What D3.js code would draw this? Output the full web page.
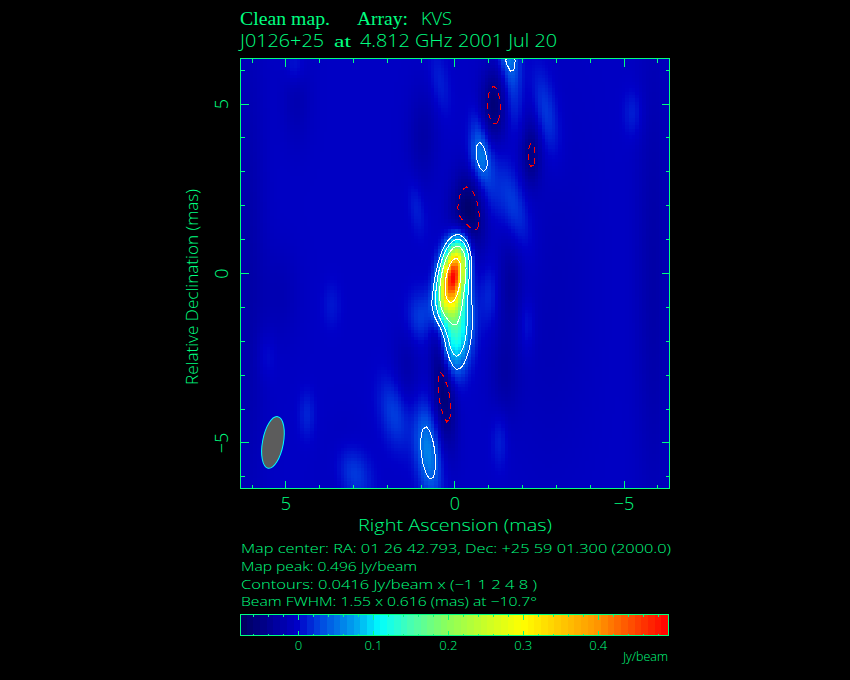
<!DOCTYPE html>
<html><head><meta charset="utf-8">
<script src="https://cdnjs.cloudflare.com/ajax/libs/d3/7.8.5/d3.min.js"></script>
<style>
html,body{margin:0;padding:0;background:#000}
svg{display:block}
text{fill:#00ff80;font-family:"Open Sans",sans-serif;font-weight:300}
.axis path{display:none}
.axis line{stroke:#00ff80;stroke-width:1;shape-rendering:crispEdges}
</style></head><body>
<svg id="c" width="850" height="680"></svg>
<script>
// Map extent (mas) and colour range (Jy/beam)
const raDomain = [6.33, -6.36];
const decDomain = [-6.36, 6.33];
const mapSize = 128;
const colorDomain = [-0.077, 0, 0.03, 0.08, 0.11, 0.15, 0.2, 0.25, 0.3, 0.4, 0.494];
const colorRange = ["#00005a","#0000c8","#0046e1","#00aaf0","#00ffff","#46ffb4","#8cff5a","#c8ff28","#ffff00","#ff9600","#ff0000"];
const colorSteps = 64;
// Brightness components: position, extent, position angle, amplitude
const compRA    = [0.03,-0.06,-0.05,0.30, 0.77,-0.78,-1.60,-0.41,-1.18,-2.28,0.33,-2.70,-1.75,-5.30,1.00,1.75,3.00,4.35,3.62,5.55,-1.75,-0.72,-1.05,1.10,0.42,4.70,-1.05,-2.15,-1.35,0.92,4.65,-1.65,-1.50,-2.25,1.39,5.15,3.28,-5.90,6.10,-3.30,-2.50];
const compDec   = [-0.07,-1.85,-0.90,-0.95,-5.30,3.37,6.60,1.63,4.94,3.46,-3.18,4.75,2.00,4.70,-1.33,-4.15,-5.90,-4.20,-0.97,-2.45,5.00,4.20,2.40,1.90,5.60,6.10,-0.70,-1.55,-4.95,3.98,5.20,-0.30,-2.95,4.60,-2.87,-0.68,-5.62,0,0,0,-2];
const compMajor = [0.66,0.80,0.55,0.40,0.95,0.52,0.70,0.90,0.73,0.62,1.25,0.90,0.95,0.50,0.55,0.75,0.60,0.50,0.50,0.50,0.70,0.50,0.60,0.60,0.70,0.40,0.70,0.60,0.60,1.00,1.00,1.00,1.00,0.80,1.00,1.00,0.80,5.00,5.00,4.00,3.00];
const compMinor = [0.24,0.30,0.24,0.25,0.25,0.22,0.20,0.33,0.26,0.20,0.22,0.25,0.28,0.20,0.30,0.30,0.35,0.17,0.20,0.20,0.22,0.18,0.22,0.17,0.20,0.20,0.20,0.17,0.17,0.30,0.30,0.25,0.30,0.25,0.30,0.40,0.40,0.35,0.35,0.80,0.80];
const compPA    = [-10.7,-6,-6,0,6,5,8,0,0,0,5,10,15,0,0,10,15,0,0,0,6,8,8,8,8,0,0,0,0,0,0,0,0,0,0,0,0,0,0,0,0];
const compAmp   = [0.470,0.125,0.07,0.04,0.063,0.056,0.064,-0.068,-0.054,-0.040,-0.066,0.030,0.030,0.018,0.030,0.032,0.035,0.018,0.012,0.012,0.020,0.018,0.018,0.016,0.016,0.018,0.020,0.018,0.018,-0.020,-0.014,-0.022,-0.020,-0.008,-0.018,-0.012,-0.012,-0.020,-0.020,-0.006,-0.006];
const baseLevel = -0.003;
// Contours and beam
const contourBase = 0.0416;
const posLevels = [1,2,4,8];
const negLevels = [1];
const beamPos = [5.37,-5.0];
const beamAxes = [1.55,0.616];
const beamAngle = -10.7;
// Ticks and text
const axisMajor = [5,0,-5];
const axisMinor = [6,4,3,2,1,-1,-2,-3,-4,-6];
const barLabels = [0,0.1,0.2,0.3,0.4];
const barMinor = [-0.06,-0.04,-0.02,0.02,0.04,0.06,0.08,0.12,0.14,0.16,0.18,0.22,0.24,0.26,0.28,0.32,0.34,0.36,0.38,0.42,0.44,0.46,0.48];
const infoLines = ["Map center:  RA: 01 26 42.793,  Dec: +25 59 01.300 (2000.0)","Map peak: 0.496 Jy/beam","Contours: 0.0416 Jy/beam x (−1 1 2 4 8 )","Beam FWHM: 1.55 x 0.616 (mas) at −10.7°"];

const svg = d3.select("#c");
const L=240.5,R=669.5,T=58.5,B=488.5;
const x = d3.scaleLinear().domain(raDomain).range([L,R]);
const y = d3.scaleLinear().domain(decDomain).range([B,T]);
const col = d3.scaleLinear().domain(colorDomain).range(colorRange).clamp(true).interpolate(d3.interpolateRgb);
const gx = d3.scaleLinear().domain([0,mapSize]).range([L,R]);
const gy = d3.scaleLinear().domain([0,mapSize]).range([T,B]);

const field = new Float64Array(mapSize*mapSize);
for(let j=0;j<mapSize;j++)for(let i=0;i<mapSize;i++){
  const ra=x.invert(gx(i+.5)),dec=y.invert(gy(j+.5));
  let v=baseLevel;
  compAmp.forEach((a,k)=>{
    const t=compPA[k]*Math.PI/180,dx=ra-compRA[k],dy=dec-compDec[k];
    const u=dx*Math.sin(t)+dy*Math.cos(t),w=dx*Math.cos(t)-dy*Math.sin(t);
    v+=a*Math.exp(-.5*(u*u/(compMajor[k]*compMajor[k])+w*w/(compMinor[k]*compMinor[k])));
  });
  field[j*mapSize+i]=v;
}
const cells=Array.from(field,(v,n)=>({i:n%mapSize,j:Math.floor(n/mapSize),v}));
const mapG=svg.append("g").attr("shape-rendering","crispEdges");
mapG.selectAll("rect").data(cells).join("rect")
  .attr("x",d=>Math.floor(gx(d.i))).attr("y",d=>Math.floor(gy(d.j)))
  .attr("width",d=>Math.ceil(gx(d.i+1))-Math.floor(gx(d.i)))
  .attr("height",d=>Math.ceil(gy(d.j+1))-Math.floor(gy(d.j)))
  .attr("fill",d=>col(d.v));

svg.append("clipPath").attr("id","plot").append("rect").attr("x",L).attr("y",T).attr("width",R-L).attr("height",B-T);
const contours=d3.contours().size([mapSize,mapSize]);
const proj=d3.geoTransform({point(px,py){this.stream.point(gx(px),gy(py));}});
const path=d3.geoPath(proj);
const cg=svg.append("g").attr("clip-path","url(#plot)").attr("fill","none").attr("shape-rendering","crispEdges");
cg.selectAll("path.pos").data(contours.thresholds(posLevels.map(m=>m*contourBase))(Array.from(field))).join("path")
  .attr("class","pos").attr("d",path).attr("stroke","#fff").attr("stroke-width",1);
cg.selectAll("path.neg").data(contours.thresholds(negLevels.map(m=>m*contourBase))(Array.from(field,v=>-v))).join("path")
  .attr("class","neg").attr("d",path).attr("stroke","#ff0000").attr("stroke-width",1).attr("stroke-dasharray","6,5");

// beam
const pxPerMas=Math.abs(x(1)-x(0));
svg.append("ellipse").attr("transform",`translate(${x(beamPos[0])},${y(beamPos[1])}) rotate(${-beamAngle})`)
  .attr("rx",beamAxes[1]/2*pxPerMas).attr("ry",beamAxes[0]/2*pxPerMas)
  .attr("fill","#5c5c5c").attr("stroke","#00ffff").attr("stroke-width",1);

// frame + axes
svg.append("rect").attr("x",L).attr("y",T).attr("width",R-L).attr("height",B-T)
  .attr("fill","none").attr("stroke","#00ff80").attr("shape-rendering","crispEdges");
function ax(fn,scale,vals,size,tr,labels){
  const a=fn(scale).tickValues(vals).tickSize(-size).tickPadding(0);
  if(!labels)a.tickFormat("");
  return svg.append("g").attr("class","axis").attr("transform",tr).call(a);
}
ax(d3.axisTop,x,axisMinor,4,`translate(0,${T})`);
ax(d3.axisTop,x,axisMajor,8,`translate(0,${T})`);
ax(d3.axisRight,y,axisMinor,4,`translate(${R},0)`);
ax(d3.axisRight,y,axisMajor,8,`translate(${R},0)`);
ax(d3.axisBottom,x,axisMinor,4,`translate(0,${B})`);
ax(d3.axisLeft,y,axisMinor,4,`translate(${L},0)`);
const fmt=d=>d<0?"−"+(-d):""+d;
const bx=ax(d3.axisBottom,x,axisMajor,8,`translate(0,${B})`,true);
bx.selectAll("text").text(fmt).attr("y",21).attr("dy",0).attr("font-size",18).attr("font-family","Open Sans");
const ly=ax(d3.axisLeft,y,axisMajor,8,`translate(${L},0)`,true);
ly.selectAll("text").text(fmt)
  .attr("x",0).attr("dy",0).attr("text-anchor","middle").attr("font-size",18).attr("font-family","Open Sans")
  .attr("transform","translate(-12.5,0) rotate(-90)");

function T1(parent,xp,yp,s,size,len,fam){
  return parent.append("text").attr("x",xp).attr("y",yp).attr("font-size",size).text(s)
    .attr("textLength",len).attr("lengthAdjust","spacingAndGlyphs").style("font-family",fam||null);
}
// titles
const serif='"Liberation Serif",serif';
T1(svg,240,25,"Clean map.",18,90,serif).style("font-weight",400);
T1(svg,357,25,"Array:",18,51,serif).style("font-weight",400);
T1(svg,421,25,"KVS",18,31);
T1(svg,240,47,"J0126+25",18,84);
T1(svg,334,47,"at",17,17,serif).style("font-weight",400);
T1(svg,360,47,"4.812 GHz 2001 Jul 20",18,197);
// axis titles
T1(svg,358,531,"Right Ascension  (mas)",17,194);
svg.append("text").attr("transform","translate(198,385) rotate(-90)").attr("font-size",17).text("Relative Declination  (mas)")
  .attr("textLength",196).attr("lengthAdjust","spacingAndGlyphs");
// info lines
const infoY=[553,571,589,606], infoW=[430,176,296,296];
infoLines.forEach((s,k)=>T1(svg,241,infoY[k],s,13,infoW[k]));

// colour bar
const bX=d3.scaleLinear().domain([-0.0767,0.4945]).range([240.5,668.5]);
const bT=614.5,bB=635.5;
const stepVals=d3.range(colorSteps);
const stepX=d3.scaleLinear().domain([0,colorSteps]).range(bX.domain());
svg.append("g").attr("shape-rendering","crispEdges").selectAll("rect").data(stepVals).join("rect")
  .attr("x",d=>Math.floor(bX(stepX(d)))).attr("width",d=>Math.ceil(bX(stepX(d+1)))-Math.floor(bX(stepX(d))))
  .attr("y",bT).attr("height",bB-bT).attr("fill",d=>col(stepX(d+.5)));
svg.append("rect").attr("x",240.5).attr("y",bT).attr("width",428).attr("height",bB-bT)
  .attr("fill","none").attr("stroke","#00ff80").attr("shape-rendering","crispEdges");
ax(d3.axisTop,bX,barMinor,2,`translate(0,${bT})`);
ax(d3.axisTop,bX,barLabels,5,`translate(0,${bT})`);
ax(d3.axisBottom,bX,barMinor,2,`translate(0,${bB})`);
const cb=ax(d3.axisBottom,bX,barLabels,5,`translate(0,${bB})`,true);
cb.selectAll("text").text(d=>d).attr("y",14).attr("dy",0).attr("font-size",13).attr("font-family","Open Sans");
svg.append("text").attr("x",668).attr("y",661).attr("text-anchor","end").attr("font-size",12.5).text("Jy/beam");
</script></body></html>
